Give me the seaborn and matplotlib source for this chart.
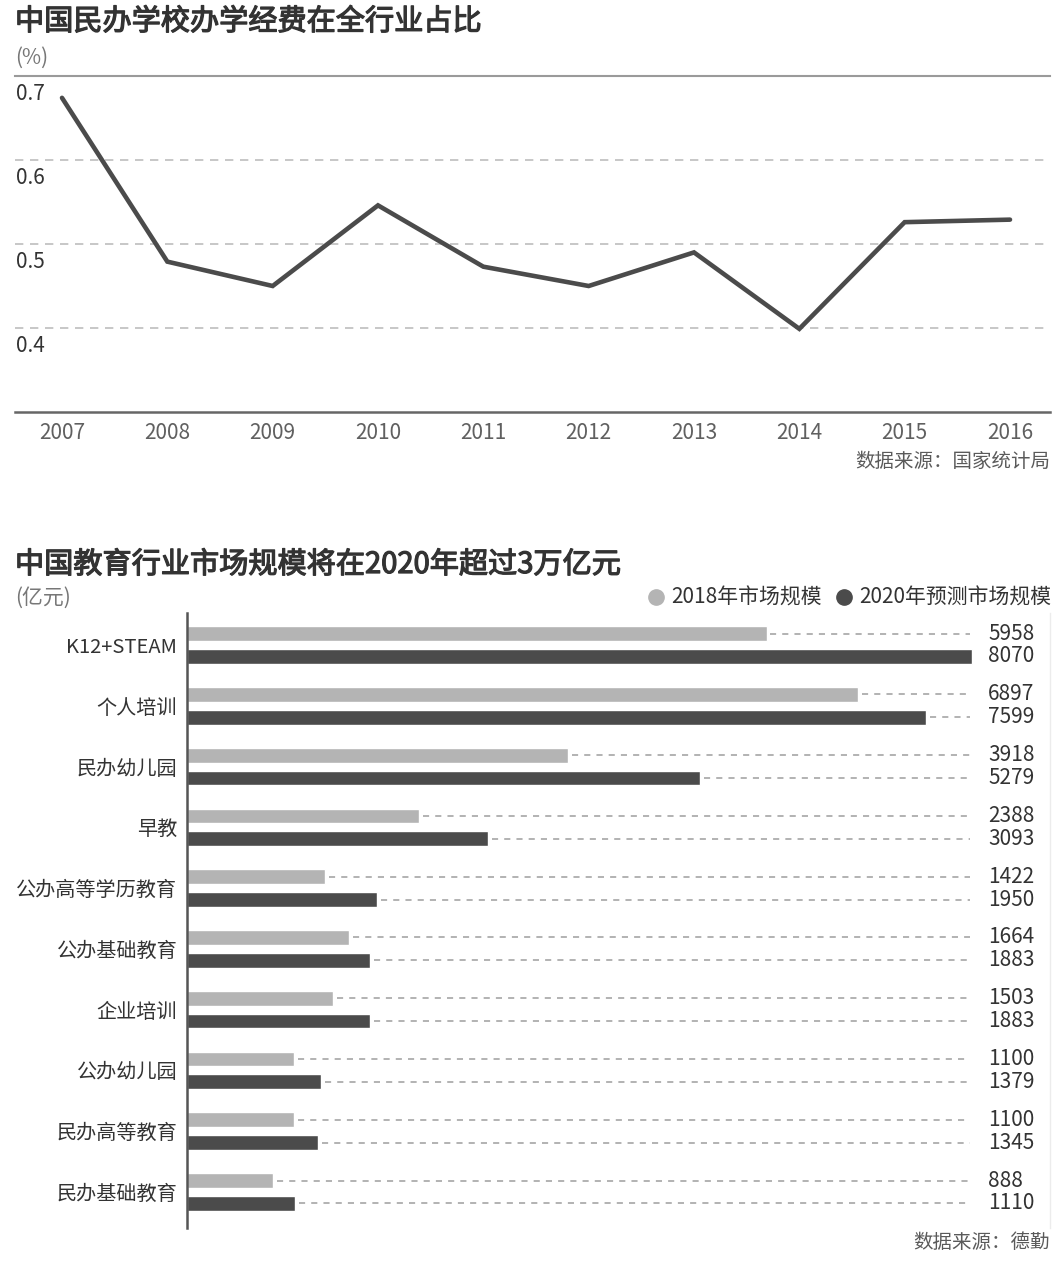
import numpy as np
import pandas as pd
import matplotlib
matplotlib.use("Agg")
import matplotlib.pyplot as plt
import matplotlib.transforms as mtransforms
import matplotlib.patheffects as pe
from matplotlib.lines import Line2D
import seaborn as sns

# datos del grafico superior
years = [2007, 2008, 2009, 2010, 2011, 2012, 2013, 2014, 2015, 2016]
share = [0.674, 0.479, 0.450, 0.546, 0.473, 0.450, 0.490, 0.399, 0.526, 0.529]
y_ticks = [0.4, 0.5, 0.6, 0.7]

# datos del grafico inferior
categories = ["K12+STEAM", "个人培训", "民办幼儿园", "早教", "公办高等学历教育",
              "公办基础教育", "企业培训", "公办幼儿园", "民办高等教育", "民办基础教育"]
size_2018 = [5958, 6897, 3918, 2388, 1422, 1664, 1503, 1100, 1100, 888]
size_2020 = [8070, 7599, 5279, 3093, 1950, 1883, 1883, 1379, 1345, 1110]
series = ["2018年市场规模", "2020年预测市场规模"]

LIGHT = "#b4b4b4"
DARK = "#4b4b4b"
TXT = "#333333"
GREY = "#5a5a5a"

sns.set_theme(style="white")
plt.rcParams["font.family"] = ["Noto Sans CJK SC", "DejaVu Sans"]

W, H = 1062, 1266
fig = plt.figure(figsize=(W / 100, H / 100), dpi=100)
fig.patch.set_facecolor("white")

def fx(px):
    return px / W

def fy(py):
    return 1 - py / H

# trazo extra para que el titulo quede en peso medio
title_fx = [pe.withStroke(linewidth=0.9, foreground=TXT)]

# ---------------- grafico de lineas ----------------
ax1 = fig.add_axes([fx(15), fy(412), fx(1035), 336 / H])
df_line = pd.DataFrame({"year": years, "share": share})
sns.lineplot(data=df_line, x="year", y="share", ax=ax1, color=DARK, lw=3.3,
             solid_joinstyle="miter")
ax1.set_xlim(2007 - 47 / 105.33, 2016 + 40 / 105.33)
ax1.set_ylim(0.3, 0.7)
ax1.set_xticks(years)
ax1.set_xticklabels([str(y) for y in years], fontsize=15, color="#606060")
ax1.tick_params(axis="x", length=0, pad=7)
ax1.set_yticks([])
ax1.set_xlabel("")
ax1.set_ylabel("")
for v in y_ticks[:-1]:
    ax1.axhline(v, color="#bdbdbd", lw=1.2, ls=(0, (5, 4)), zorder=0)
for s in ["left", "right"]:
    ax1.spines[s].set_visible(False)
ax1.spines["top"].set_color("#9a9a9a")
ax1.spines["top"].set_linewidth(1.5)
ax1.spines["bottom"].set_color("#666666")
ax1.spines["bottom"].set_linewidth(1.8)
trans = mtransforms.blended_transform_factory(ax1.transAxes, ax1.transData)
for v in y_ticks:
    ax1.annotate(f"{v:.1f}", xy=(0, v), xycoords=trans, xytext=(1, -5),
                 textcoords="offset points", ha="left", va="top",
                 fontsize=15, color=TXT)

fig.text(fx(15), fy(22), "中国民办学校办学经费在全行业占比", fontsize=21,
         color=TXT, ha="left", va="center", path_effects=title_fx)
fig.text(fx(15), fy(58), "(%)", fontsize=15, color="#777777", ha="left", va="center")
fig.text(fx(1050), fy(461), "数据来源：国家统计局", fontsize=14, color=GREY,
         ha="right", va="center")

# ---------------- grafico de barras ----------------
ax2 = fig.add_axes([fx(187), fy(1228), fx(863), 615 / H])
df_bar = pd.DataFrame({
    "cat": categories * 2,
    "val": size_2018 + size_2020,
    "serie": [series[0]] * len(categories) + [series[1]] * len(categories),
})
sns.barplot(data=df_bar, y="cat", x="val", hue="serie", orient="h", ax=ax2,
            palette=[LIGHT, DARK], width=0.75, gap=0.35, legend=False,
            saturation=1)
ax2.set_ylim(9 + 36 / 60.78, -32 / 60.78)
xmax = 863 / 0.09727
ax2.set_xlim(0, xmax)
ax2.set_xticks([])
ax2.set_xlabel("")
ax2.set_ylabel("")
ax2.tick_params(axis="y", length=0, pad=7, labelsize=14.5, labelcolor=TXT)
ax2.spines["top"].set_visible(False)
ax2.spines["bottom"].set_visible(False)
ax2.spines["left"].set_color("#555555")
ax2.spines["left"].set_linewidth(1.8)
ax2.spines["right"].set_color("#ececec")
ax2.spines["right"].set_linewidth(1.0)

dash_end = (970 - 187) / 0.09727
off = 0.75 / 4
for i in range(len(categories)):
    for vals, d in [(size_2018, -off), (size_2020, off)]:
        v = vals[i]
        if v < dash_end:
            ax2.plot([v + 40, dash_end], [i + d, i + d], color="#9e9e9e", lw=1.1,
                     ls=(0, (4, 4)), zorder=0)
        ax2.text((988 - 187) / 863, i + d,
                 str(v), transform=mtransforms.blended_transform_factory(ax2.transAxes, ax2.transData),
                 ha="left", va="center", fontsize=15, color=TXT)

fig.text(fx(15), fy(565), "中国教育行业市场规模将在2020年超过3万亿元", fontsize=21,
         color=TXT, ha="left", va="center", path_effects=title_fx)
fig.text(fx(15), fy(598), "(亿元)", fontsize=15, color="#777777", ha="left", va="center")
handles = [Line2D([], [], ls="", marker="o", markersize=11, color=LIGHT),
           Line2D([], [], ls="", marker="o", markersize=11, color=DARK)]
fig.legend(handles, series, loc="center right", bbox_to_anchor=(fx(1051), fy(598)),
           ncol=2, frameon=False, fontsize=15, handletextpad=0.2,
           columnspacing=0.6, handlelength=1.0, labelcolor=TXT,
           borderaxespad=0, borderpad=0)
fig.text(fx(1050), fy(1243), "数据来源：德勤", fontsize=14, color=GREY,
         ha="right", va="center")

fig.savefig("out.png", dpi=100, facecolor="white")
